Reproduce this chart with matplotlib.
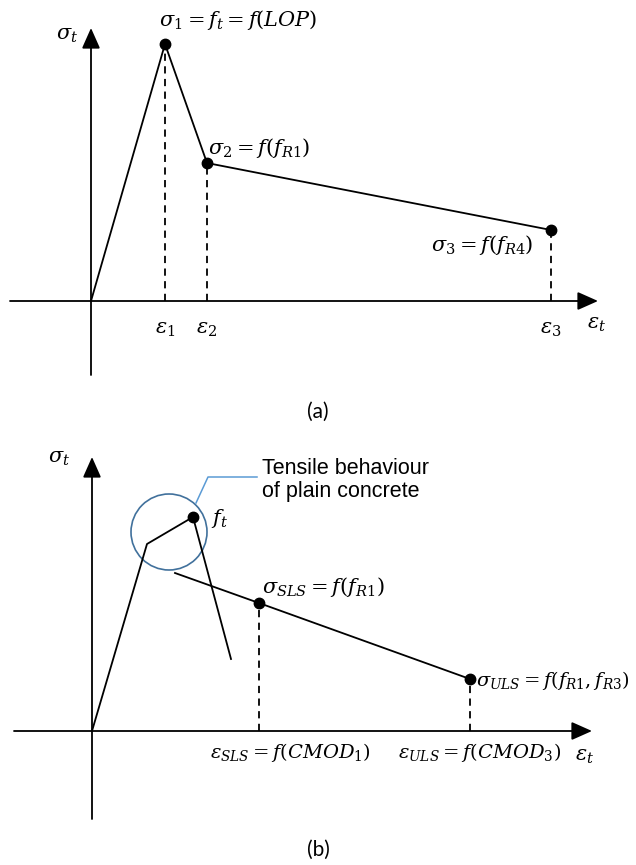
import matplotlib.pyplot as plt
from matplotlib.patches import Circle

plt.rcParams['mathtext.fontset'] = 'dejavuserif'

# (a) multilinear law: strain / stress at the key points
eps_a = [0, 74, 116, 460]
sig_a = [0, 257, 138, 71]
eps_a_labels = [r'$\varepsilon_1$', r'$\varepsilon_2$', r'$\varepsilon_3$']
sig_a_labels = [r'$\sigma_1 = f_t = f(LOP)$', r'$\sigma_2 = f(f_{R1})$', r'$\sigma_3 = f(f_{R4})$']

# (b) plain concrete branch and fibre-reinforced residual branch
plain_eps = [0, 55, 101, 139]
plain_sig = [0, 187, 214, 72]
frc_eps = [83, 167, 378]
frc_sig = [158, 128, 52]

W, H = 636, 865
fig = plt.figure(figsize=(W / 100, H / 100), dpi=100)

LW = 1.3
DOT = 7.5
FS = 15
FS_B = 14


def make_axes(top, bottom, x0, y0):
    # axes in pixel units, with the origin of the diagram at (x0, y0)
    ax = fig.add_axes([0, 1 - bottom / H, 1, (bottom - top) / H])
    ax.set_xlim(-x0, W - x0)
    ax.set_ylim(-(bottom - y0), y0 - top)
    ax.axis('off')
    return ax


def arrow_axes(ax, xmin, xmax, ymin, ymax):
    style = dict(arrowstyle='-|>,head_length=0.9,head_width=0.4', color='black',
                 lw=LW, mutation_scale=14, shrinkA=0, shrinkB=0)
    ax.annotate('', xy=(xmax, 0), xytext=(xmin, 0), arrowprops=style)
    ax.annotate('', xy=(0, ymax), xytext=(0, ymin), arrowprops=style)


# ---------- (a) ----------
ax = make_axes(0, 400, 91, 301)
arrow_axes(ax, -81, 507, -74, 273)
ax.plot(eps_a, sig_a, color='black', lw=LW)
ax.plot(eps_a[1:], sig_a[1:], 'o', color='black', ms=DOT)
for e, s in zip(eps_a[1:], sig_a[1:]):
    ax.plot([e, e], [0, s], color='black', lw=LW, ls=(0, (4, 3)))

ax.text(-24, 266, r'$\sigma_t$', fontsize=FS, ha='center', va='center')
ax.text(506, -23, r'$\varepsilon_t$', fontsize=FS, ha='center', va='center')
for e, lab in zip(eps_a[1:], eps_a_labels):
    ax.text(e, -28, lab, fontsize=FS, ha='center', va='center')
ax.text(eps_a[1] + 73, 281, sig_a_labels[0], fontsize=FS, ha='center', va='center')
ax.text(eps_a[2] + 1, sig_a[2] + 15, sig_a_labels[1], fontsize=FS, ha='left', va='center')
ax.text(eps_a[3] - 18, sig_a[3] - 15, sig_a_labels[2], fontsize=FS, ha='right', va='center')

fig.text(318 / W, 1 - 412 / H, '(a)', fontsize=15, ha='center', va='center',
         family='Lato')

# ---------- (b) ----------
ax = make_axes(440, 865, 92, 731)
arrow_axes(ax, -78, 500, -88, 274)
ax.plot(plain_eps, plain_sig, color='black', lw=LW)
ax.plot(plain_eps[2], plain_sig[2], 'o', color='black', ms=DOT)
ax.plot(frc_eps, frc_sig, color='black', lw=LW)
ax.plot(frc_eps[1:], frc_sig[1:], 'o', color='black', ms=DOT)
for e, s in zip(frc_eps[1:], frc_sig[1:]):
    ax.plot([e, e], [0, s], color='black', lw=LW, ls=(0, (4, 3)))

ax.add_patch(Circle((77, 199), 38, fill=False, ec='#41719c', lw=1.2))
ax.plot([104, 116, 165], [228, 254, 254], color='#5b9bd5', lw=1.1)
ax.text(170, 251, 'Tensile behaviour\nof plain concrete', fontsize=15.5,
        family='Liberation Sans', ha='left', va='center', linespacing=1.15)

ax.text(-33, 273, r'$\sigma_t$', fontsize=FS, ha='center', va='center')
ax.text(493, -25, r'$\varepsilon_t$', fontsize=FS, ha='center', va='center')
ax.text(plain_eps[2] + 26, plain_sig[2] - 2, r'$f_t$', fontsize=FS, ha='center', va='center')
ax.text(frc_eps[1] + 3, frc_sig[1] + 16, r'$\sigma_{SLS} = f(f_{R1})$', fontsize=FS,
        ha='left', va='center')
ax.text(frc_eps[2] + 6, frc_sig[2] - 1, r'$\sigma_{ULS} = f(f_{R1}, f_{R3})$', fontsize=FS_B,
        ha='left', va='center')
ax.text(frc_eps[1] + 31, -22, r'$\varepsilon_{SLS} = f(CMOD_1)$', fontsize=FS_B,
        ha='center', va='center')
ax.text(frc_eps[2] + 10, -22, r'$\varepsilon_{ULS} = f(CMOD_3)$', fontsize=FS_B,
        ha='center', va='center')

fig.text(318 / W, 1 - 850 / H, '(b)', fontsize=15, ha='center', va='center',
         family='Lato')

fig.savefig('out.png', dpi=100)
